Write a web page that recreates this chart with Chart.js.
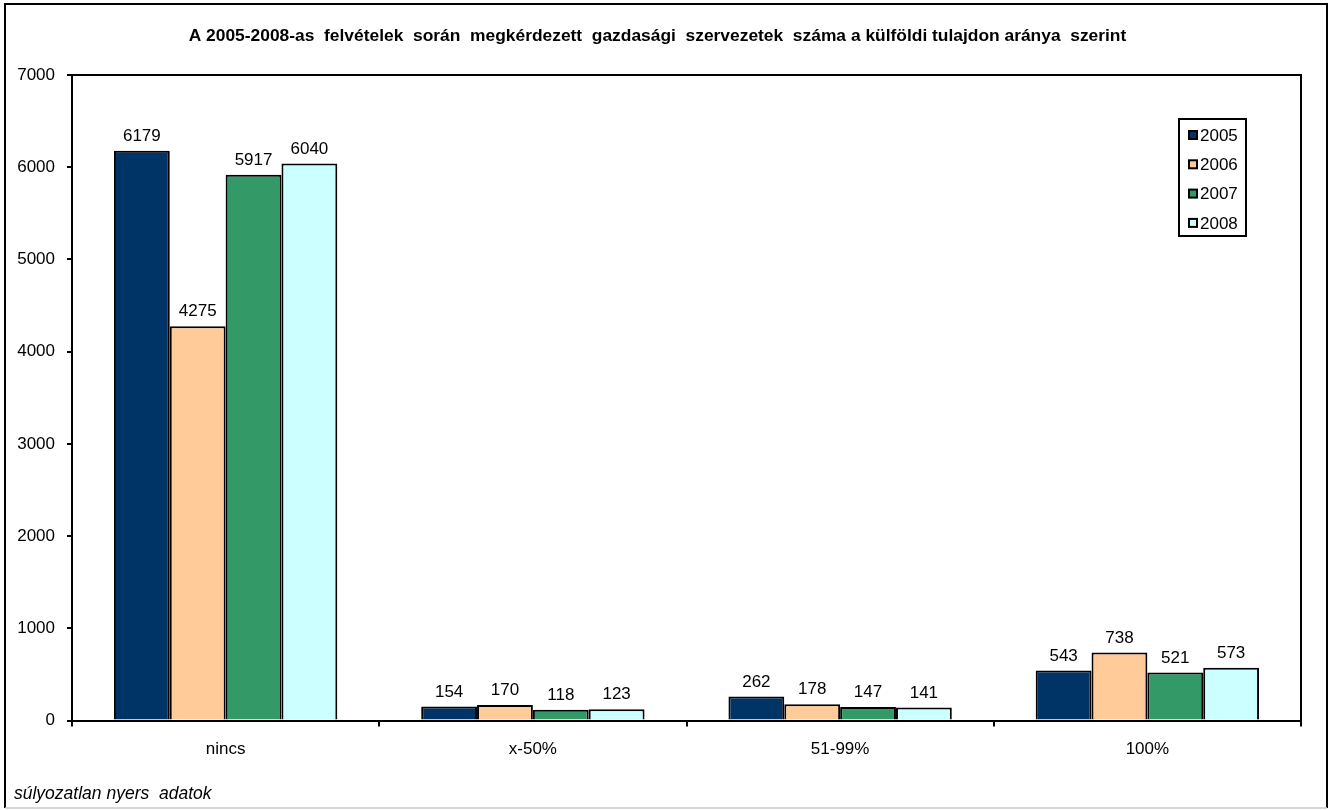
<!DOCTYPE html>
<html>
<head>
<meta charset="utf-8">
<script src="https://cdn.jsdelivr.net/npm/chart.js@4/dist/chart.umd.min.js"></script>
<style>
  html, body { margin: 0; padding: 0; background: #fff; }
  #wrap { width: 1332px; height: 810px; position: relative; }
  canvas { display: block; }
</style>
</head>
<body>
<div id="wrap"><canvas id="c" width="1332" height="810"></canvas></div>
<script>
const titleText = "A 2005-2008-as  felvételek  során  megkérdezett  gazdasági  szervezetek  száma a külföldi tulajdon aránya  szerint";
const footerText = "súlyozatlan nyers  adatok";
const categories = ["nincs", "x-50%", "51-99%", "100%"];
const seriesNames = ["2005", "2006", "2007", "2008"];
const values2005 = [6179, 154, 262, 543];
const values2006 = [4275, 170, 178, 738];
const values2007 = [5917, 118, 147, 521];
const values2008 = [6040, 123, 141, 573];
const seriesColors = ["#003366", "#FFCC99", "#339966", "#CCFFFF"];
const yTicks = [0, 1000, 2000, 3000, 4000, 5000, 6000, 7000];

const FONT = "'Liberation Sans', Arial, Helvetica, sans-serif";
Chart.defaults.font.family = FONT;
Chart.defaults.color = "#000";

const allValues = [values2005, values2006, values2007, values2008];

const decorPlugin = {
  id: "decor",
  beforeDraw(chart) {
    const ctx = chart.ctx;
    ctx.save();
    ctx.fillStyle = "#fff";
    ctx.fillRect(0, 0, chart.width, chart.height);
    ctx.restore();
  },
  afterDraw(chart) {
    const ctx = chart.ctx;
    const a = chart.chartArea;
    ctx.save();
    // plot frame
    ctx.strokeStyle = "#000";
    ctx.lineWidth = 2;
    ctx.beginPath();
    ctx.moveTo(a.left, a.top);
    ctx.lineTo(a.right, a.top);
    ctx.lineTo(a.right, a.bottom);
    ctx.stroke();
    // outer border
    ctx.beginPath();
    ctx.moveTo(5, 808);
    ctx.lineTo(5, 4);
    ctx.lineTo(1327, 4);
    ctx.lineTo(1327, 808);
    ctx.stroke();
    ctx.strokeStyle = "#c8c8c8";
    ctx.lineWidth = 1.5;
    ctx.beginPath();
    ctx.moveTo(5, 808);
    ctx.lineTo(1327, 808);
    ctx.stroke();

    // data labels
    ctx.fillStyle = "#000";
    ctx.font = "17px " + FONT;
    ctx.textAlign = "center";
    ctx.textBaseline = "bottom";
    chart.data.datasets.forEach((ds, di) => {
      const meta = chart.getDatasetMeta(di);
      meta.data.forEach((bar, i) => {
        ctx.fillText(String(ds.data[i]), bar.x, bar.y - 6);
      });
    });

    // legend box
    const lx = a.right - 122, ly = 119, lw = 67, lh = 117;
    ctx.fillStyle = "#fff";
    ctx.fillRect(lx, ly, lw, lh);
    ctx.strokeStyle = "#000";
    ctx.lineWidth = 2;
    ctx.strokeRect(lx, ly, lw, lh);
    ctx.textAlign = "left";
    ctx.textBaseline = "middle";
    chart.data.datasets.forEach((ds, di) => {
      const cy = ly + 16 + di * 29.3;
      ctx.fillStyle = ds.backgroundColor;
      ctx.fillRect(lx + 10, cy - 4, 8, 8);
      ctx.strokeStyle = "#000";
      ctx.lineWidth = 2;
      ctx.strokeRect(lx + 10, cy - 4, 8, 8);
      ctx.fillStyle = "#000";
      ctx.fillText(ds.label, lx + 21, cy + 1);
    });
    ctx.restore();
  }
};

new Chart(document.getElementById("c"), {
  type: "bar",
  data: {
    labels: categories,
    datasets: seriesNames.map((name, i) => ({
      label: name,
      data: allValues[i],
      backgroundColor: seriesColors[i],
      borderColor: "#000",
      borderWidth: 2,
      borderSkipped: "bottom",
      categoryPercentage: 0.727,
      barPercentage: 1.0
    }))
  },
  options: {
    responsive: false,
    animation: false,
    devicePixelRatio: 1,
    layout: { padding: { left: 14, right: 31, top: 0, bottom: 0 } },
    plugins: {
      legend: { display: false },
      tooltip: { enabled: false },
      title: {
        display: true,
        text: titleText,
        font: { size: 17.4, weight: "bold", family: FONT },
        color: "#000",
        padding: { top: 26, bottom: 28.1 }
      },
      subtitle: {
        display: true,
        text: footerText,
        position: "bottom",
        align: "start",
        font: { size: 17.5, style: "italic", family: FONT },
        color: "#000",
        padding: { top: 11, bottom: 5 }
      }
    },
    scales: {
      x: {
        grid: { drawOnChartArea: false, drawTicks: true, tickLength: 6, color: "#000", lineWidth: 2, offset: true },
        border: { color: "#000", width: 2 },
        ticks: { font: { size: 17 }, color: "#000", padding: 13, maxRotation: 0 }
      },
      y: {
        min: 0,
        max: 7000,
        afterFit(s) { s.width = 58; },
        afterBuildTicks(s) { s.ticks = yTicks.map(v => ({ value: v })); },
        grid: { drawOnChartArea: false, drawTicks: true, tickLength: 5, color: "#000", lineWidth: 2 },
        border: { color: "#000", width: 2 },
        ticks: { font: { size: 17 }, color: "#000", padding: 12, callback: (v) => String(v) }
      }
    }
  },
  plugins: [decorPlugin]
});
</script>
</body>
</html>
